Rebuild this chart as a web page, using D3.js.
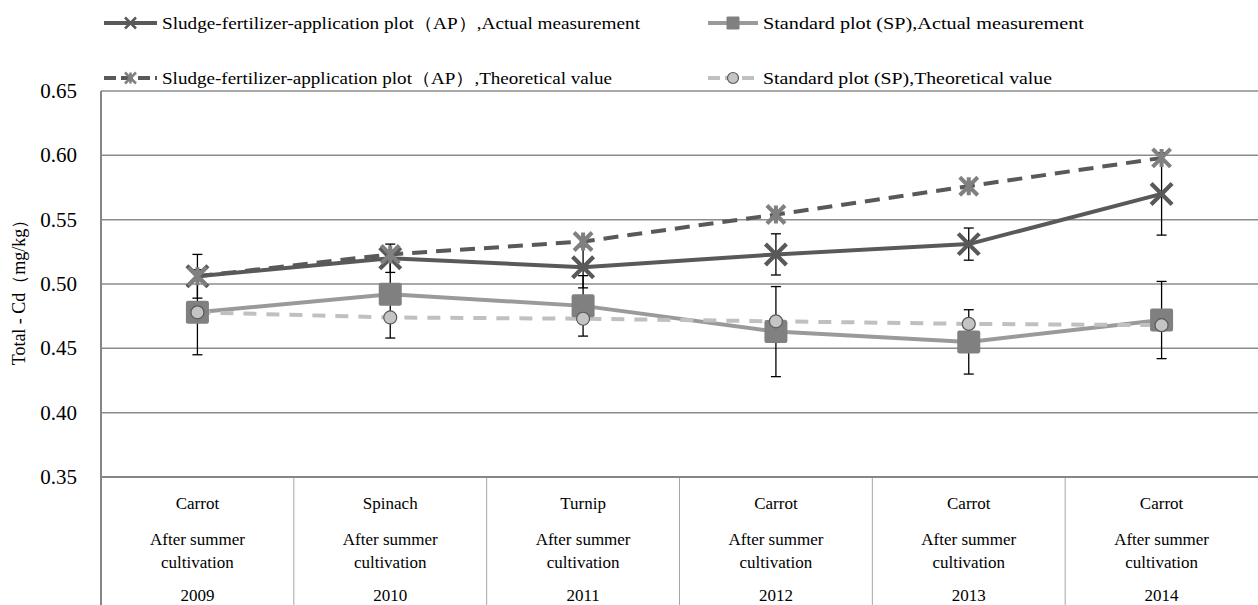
<!DOCTYPE html>
<html>
<head>
<meta charset="utf-8">
<script src="https://cdn.jsdelivr.net/npm/d3@7"></script>
<style>
  body { margin: 0; background: #fff; }
  svg text { font-family: "Liberation Serif", "DejaVu Serif", serif; fill: #000; }
</style>
</head>
<body>
<div id="chart"></div>
<script>
const years = ['2009', '2010', '2011', '2012', '2013', '2014'];
const crops = ['Carrot', 'Spinach', 'Turnip', 'Carrot', 'Carrot', 'Carrot'];
const yTicks = [0.35, 0.40, 0.45, 0.50, 0.55, 0.60, 0.65];

const apActual = [0.506, 0.520, 0.513, 0.523, 0.531, 0.570];
const apActualErr = [0.017, 0.011, 0.016, 0.016, 0.0125, 0.032];
const spActual = [0.478, 0.492, 0.483, 0.463, 0.455, 0.472];
const spActualErr = [0.033, 0.034, 0.0235, 0.035, 0.025, 0.030];
const apTheory = [0.506, 0.523, 0.533, 0.554, 0.576, 0.598];
const spTheory = [0.478, 0.474, 0.473, 0.471, 0.469, 0.468];

const W = 1258, H = 605;
const plotL = 101, plotR = 1258, plotT = 91, plotB = 477;

const svg = d3.select('#chart').append('svg')
  .attr('width', W)
  .attr('height', H)
  .attr('font-family', '"Liberation Serif", serif');

const x = d3.scaleBand().domain(years).range([plotL, plotR]).padding(0);
const y = d3.scaleLinear().domain([0.35, 0.65]).range([plotB, plotT]);
const cx = d => x(d) + x.bandwidth() / 2;

// gridlines
svg.append('g').selectAll('line')
  .data(yTicks.slice(1))
  .join('line')
  .attr('x1', plotL).attr('x2', plotR)
  .attr('y1', d => y(d)).attr('y2', d => y(d))
  .attr('stroke', '#8c8c8c').attr('stroke-width', 1.5);

// y tick labels
svg.append('g').selectAll('text')
  .data(yTicks)
  .join('text')
  .attr('x', 77).attr('y', d => y(d) + 7)
  .attr('text-anchor', 'end')
  .attr('font-size', 21)
  .text(d => d3.format('.2f')(d));

// y title
svg.append('text')
  .attr('transform', 'translate(25,288) rotate(-90)')
  .attr('text-anchor', 'middle')
  .attr('font-size', 18)
  .text('Total - Cd（mg/kg）');

// category table lines
svg.append('g').selectAll('line')
  .data(years.slice(1))
  .join('line')
  .attr('x1', d => x(d)).attr('x2', d => x(d))
  .attr('y1', plotB).attr('y2', H)
  .attr('stroke', '#a6a6a6').attr('stroke-width', 1);

svg.append('line')
  .attr('x1', plotL).attr('x2', plotL).attr('y1', plotT).attr('y2', H)
  .attr('stroke', '#868686').attr('stroke-width', 2);
svg.append('line')
  .attr('x1', plotL).attr('x2', plotR).attr('y1', plotB).attr('y2', plotB)
  .attr('stroke', '#868686').attr('stroke-width', 2);

// category labels
const cat = svg.append('g').selectAll('g')
  .data(years)
  .join('g')
  .attr('transform', d => `translate(${cx(d)},0)`)
  .attr('text-anchor', 'middle')
  .attr('font-size', 17);
cat.append('text').attr('y', 509).text((d, i) => crops[i]);
cat.append('text').attr('y', 545).text('After summer');
cat.append('text').attr('y', 568).text('cultivation');
cat.append('text').attr('y', 601).text(d => d);

// error bars
function errorBars(vals, errs) {
  const g = svg.append('g').attr('stroke', '#000').attr('stroke-width', 1.3);
  years.forEach((yr, i) => {
    const px = cx(yr);
    const y1 = y(vals[i] + errs[i]), y2 = y(vals[i] - errs[i]);
    g.append('line').attr('x1', px).attr('x2', px).attr('y1', y1).attr('y2', y2);
    g.append('line').attr('x1', px - 5).attr('x2', px + 5).attr('y1', y1).attr('y2', y1);
    g.append('line').attr('x1', px - 5).attr('x2', px + 5).attr('y1', y2).attr('y2', y2);
  });
}
errorBars(spActual, spActualErr);
errorBars(apActual, apActualErr);

// marker drawers
const markers = {
  cross(g, px, py, s) {
    g.append('path')
      .attr('d', `M${px - s},${py - s}L${px + s},${py + s}M${px - s},${py + s}L${px + s},${py - s}`)
      .attr('stroke', '#595959').attr('stroke-width', Math.max(2.5, s * 0.4)).attr('fill', 'none');
  },
  star(g, px, py, s) {
    g.append('path')
      .attr('d', `M${px - s},${py - s}L${px + s},${py + s}M${px - s},${py + s}L${px + s},${py - s}M${px},${py - s}L${px},${py + s}`)
      .attr('stroke', '#808080').attr('stroke-width', Math.max(2.5, s * 0.45)).attr('fill', 'none');
  },
  square(g, px, py, s) {
    g.append('rect')
      .attr('x', px - s).attr('y', py - s).attr('width', 2 * s).attr('height', 2 * s)
      .attr('rx', s * 0.18)
      .attr('fill', '#808080');
  },
  circle(g, px, py, s) {
    g.append('circle')
      .attr('cx', px).attr('cy', py).attr('r', s)
      .attr('fill', '#c4c4c4').attr('stroke', '#595959').attr('stroke-width', 1.2);
  }
};

const series = [
  { name: 'Sludge-fertilizer-application plot（AP）,Actual  measurement', vals: apActual,
    color: '#595959', dash: null, marker: 'cross', size: 10.5, lsize: 5.5, legend: [104, 23, 157, 478] },
  { name: 'Standard plot (SP),Actual  measurement', vals: spActual,
    color: '#9a9a9a', dash: null, marker: 'square', size: 11.5, lsize: 6.5, legend: [708, 23, 758, 321] },
  { name: 'Sludge-fertilizer-application plot（AP）,Theoretical value', vals: apTheory,
    color: '#595959', dash: '15,9', marker: 'star', size: 9, lsize: 5.5, legend: [104, 78, 157, 450] },
  { name: 'Standard plot (SP),Theoretical value', vals: spTheory,
    color: '#c0c0c0', dash: '13,10', marker: 'circle', size: 6.5, lsize: 5.5, legend: [708, 78, 758, 289] }
];

const line = d3.line().x((d, i) => cx(years[i])).y(d => y(d));

// lines
series.forEach(s => {
  svg.append('path')
    .datum(s.vals)
    .attr('d', line)
    .attr('fill', 'none')
    .attr('stroke', s.color)
    .attr('stroke-width', 4)
    .attr('stroke-dasharray', s.dash)
    .attr('stroke-linejoin', 'round');
});

// markers
series.forEach(s => {
  const g = svg.append('g');
  s.vals.forEach((v, i) => markers[s.marker](g, cx(years[i]), y(v), s.size));
});

// legend
series.forEach(s => {
  const [lx, ly, lx2, tw] = s.legend;
  const g = svg.append('g');
  g.append('line')
    .attr('x1', lx).attr('x2', lx2).attr('y1', ly).attr('y2', ly)
    .attr('stroke', s.color).attr('stroke-width', 4)
    .attr('stroke-dasharray', s.dash ? '12,5' : null);
  markers[s.marker](g, (lx + lx2) / 2, ly, s.lsize);
  g.append('text')
    .attr('x', lx2 + 5).attr('y', ly + 6)
    .attr('font-size', 17)
    .attr('textLength', tw)
    .attr('lengthAdjust', 'spacingAndGlyphs')
    .text(s.name);
});
</script>
</body>
</html>
